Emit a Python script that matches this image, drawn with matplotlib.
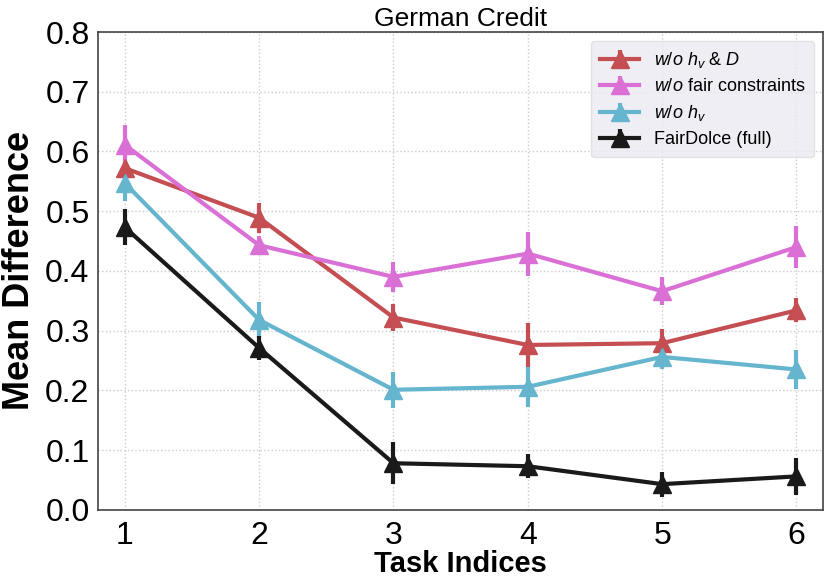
import matplotlib
matplotlib.use("Agg")
import matplotlib.pyplot as plt
import numpy as np

plt.rcParams['font.family'] = ['Liberation Sans', 'DejaVu Sans']
plt.rcParams['mathtext.fontset'] = 'custom'
plt.rcParams['mathtext.rm'] = 'Liberation Sans'
plt.rcParams['mathtext.it'] = 'Liberation Sans:italic'

tasks = [1, 2, 3, 4, 5, 6]

no_hv_d = [0.572, 0.489, 0.322, 0.276, 0.279, 0.334]
no_hv_d_err = [0.012, 0.025, 0.022, 0.037, 0.024, 0.020]

no_fair = [0.611, 0.443, 0.390, 0.429, 0.366, 0.440]
no_fair_err = [0.033, 0.016, 0.025, 0.037, 0.023, 0.035]

no_hv = [0.547, 0.318, 0.201, 0.206, 0.256, 0.235]
no_hv_err = [0.030, 0.030, 0.030, 0.033, 0.020, 0.033]

full = [0.473, 0.271, 0.078, 0.073, 0.043, 0.056]
full_err = [0.030, 0.020, 0.035, 0.020, 0.021, 0.031]

labels = [r'$w/o$ $h_v$ & $D$', r'$w/o$ fair constraints', r'$w/o$ $h_v$', 'FairDolce (full)']
colors = ['#C44E52', '#DA70D6', '#64B5CD', '#1A1A1A']

fig, ax = plt.subplots(figsize=(8.3, 5.82), dpi=100)

series = [(no_hv_d, no_hv_d_err), (no_fair, no_fair_err), (no_hv, no_hv_err), (full, full_err)]
for (vals, errs), lab, col in zip(series, labels, colors):
    ax.errorbar(tasks, vals, yerr=errs, color=col, label=lab, marker='^',
                markersize=13, linewidth=3, elinewidth=3, capsize=0)

ax.set_xlim(0.8, 6.2)
ax.set_ylim(0, 0.8)
ax.set_xticks(tasks)
ax.set_yticks(np.arange(0, 0.81, 0.1))
ax.set_yticklabels([f"{v:.1f}" for v in np.arange(0, 0.81, 0.1)])
ax.tick_params(labelsize=23, length=0)
ax.tick_params(axis='x', pad=8)
ax.tick_params(axis='y', pad=6)
ax.grid(True, color='#cccccc', linestyle=':', linewidth=1)
for sp in ax.spines.values():
    sp.set_color('#444444')
    sp.set_linewidth(1.2)

ax.set_title('German Credit', fontsize=19, pad=4)
ax.set_xlabel('Task Indices', fontsize=21, fontweight='bold', labelpad=-1)
ax.set_ylabel('Mean Difference', fontsize=26, fontweight='bold', labelpad=6)

leg = ax.legend(loc='upper right', fontsize=13, frameon=True, facecolor='#EAEAF2',
                edgecolor='#dddddd', handlelength=2.2, borderpad=0.5, labelspacing=0.45)

plt.subplots_adjust(left=0.118, right=0.992, top=0.945, bottom=0.124)
fig.savefig('out.png')
